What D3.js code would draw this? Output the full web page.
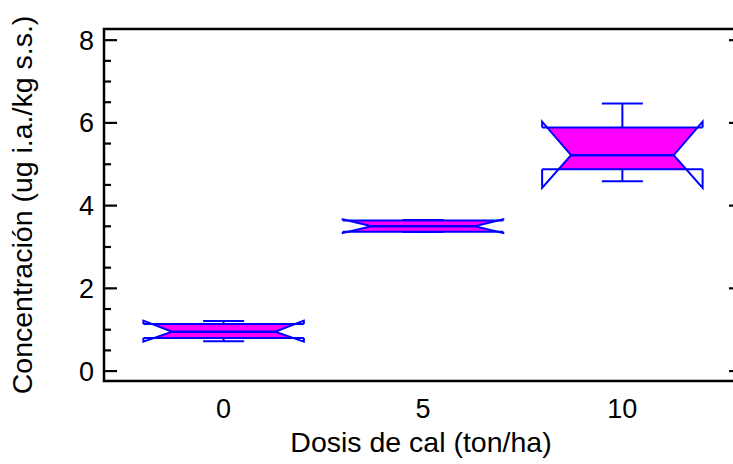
<!DOCTYPE html>
<html><head><meta charset="utf-8">
<script src="https://cdn.jsdelivr.net/npm/d3@7"></script>
<style>body{margin:0;background:#fff;} text{font-family:"Liberation Sans",Arial,sans-serif;}</style>
</head><body>
<svg id="c" width="733" height="464"></svg>
<script>
const categories = ["0", "5", "10"];
const whiskerLow  = [0.72, 3.36, 4.59];
const q1          = [0.80, 3.37, 4.88];
const median      = [0.95, 3.50, 5.22];
const q3          = [1.14, 3.64, 5.89];
const whiskerHigh = [1.21, 3.65, 6.47];
const notchLow    = [0.71, 3.34, 4.43];
const notchHigh   = [1.22, 3.67, 6.03];
const yMajorTicks = [0, 2, 4, 6, 8];
const yMinorTicks = [0.5, 1, 1.5, 2.5, 3, 3.5, 4.5, 5, 5.5, 6.5, 7, 7.5];
const xTitle = "Dosis de cal (ton/ha)";
const yTitle = "Concentración (ug i.a./kg s.s.)";

(function () {
const svg = d3.select("#c");
const pL = 104, pR = 742, pT = 29, pB = 381;
const x = d3.scalePoint().domain(categories).range([pL, pR]).padding(0.6);
const y = d3.scaleLinear().domain([-0.24, 8.27]).range([pB, pT]);
const boxW = x.step() * 0.805;
const inset = boxW * 0.18;
const capW = 41;
const fs = 27, fsT = 28.5;

const data = categories.map((c, i) => ({c, i, wl: whiskerLow[i], q1: q1[i], med: median[i], q3: q3[i], wh: whiskerHigh[i], nl: notchLow[i], nh: notchHigh[i]}));

const defs = svg.append("defs");
data.forEach(d => {
  defs.append("clipPath").attr("id", "clip" + d.i).append("rect")
    .attr("x", x(d.c) - boxW/2 - 1).attr("width", boxW + 2)
    .attr("y", y(d.q3)).attr("height", y(d.q1) - y(d.q3));
});

const g = svg.append("g");
data.forEach(d => {
  const cx = x(d.c), L = cx - boxW/2, R = cx + boxW/2;
  g.append("path")
    .attr("d", d3.line()([[L, y(d.nh)], [R, y(d.nh)], [R - inset, y(d.med)], [R, y(d.nl)], [L, y(d.nl)], [L + inset, y(d.med)]]) + "Z")
    .attr("fill", "#ff00ff").attr("clip-path", "url(#clip" + d.i + ")");
  const st = (sel, w) => sel.attr("fill", "none").attr("stroke", "#0000ff").attr("stroke-width", w || 2);
  st(g.append("path").attr("d", d3.line()([[cx, y(d.q3)], [cx, y(d.wh)]])));
  st(g.append("path").attr("d", d3.line()([[cx - capW/2, y(d.wh)], [cx + capW/2, y(d.wh)]])));
  st(g.append("path").attr("d", d3.line()([[cx, y(d.q1)], [cx, y(d.wl)]])));
  st(g.append("path").attr("d", d3.line()([[cx - capW/2, y(d.wl)], [cx + capW/2, y(d.wl)]])));
  st(g.append("path").attr("d", d3.line()([[L, y(d.q3)], [R, y(d.q3)]])));
  st(g.append("path").attr("d", d3.line()([[L, y(d.q1)], [R, y(d.q1)]])));
  st(g.append("path").attr("d", d3.line()([[L, y(d.q3)], [L, y(d.nh)], [L + inset, y(d.med)], [L, y(d.nl)], [L, y(d.q1)]])));
  st(g.append("path").attr("d", d3.line()([[R, y(d.q3)], [R, y(d.nh)], [R - inset, y(d.med)], [R, y(d.nl)], [R, y(d.q1)]])));
  st(g.append("path").attr("d", d3.line()([[L + inset, y(d.med)], [R - inset, y(d.med)]])), 2.5);
});

svg.append("rect").attr("x", pL).attr("y", pT).attr("width", pR - pL).attr("height", pB - pT)
  .attr("fill", "none").attr("stroke", "#000").attr("stroke-width", 2.5);

const tk = svg.append("g").attr("stroke", "#000").attr("stroke-width", 2.2);
yMajorTicks.forEach(v => {
  tk.append("line").attr("x1", pL).attr("x2", pL + 13).attr("y1", y(v)).attr("y2", y(v));
  tk.append("line").attr("x1", pR).attr("x2", pR - 13).attr("y1", y(v)).attr("y2", y(v));
});
yMinorTicks.forEach(v => {
  tk.append("line").attr("x1", pL).attr("x2", pL + 7).attr("y1", y(v)).attr("y2", y(v));
  tk.append("line").attr("x1", pR).attr("x2", pR - 7).attr("y1", y(v)).attr("y2", y(v));
});
svg.append("g").selectAll("text").data(yMajorTicks).join("text")
  .attr("x", 94).attr("y", v => y(v)).attr("dy", "0.35em").attr("text-anchor", "end")
  .attr("font-size", fs).text(v => v);

svg.append("g").selectAll("text").data(categories).join("text")
  .attr("x", c => x(c)).attr("y", 418).attr("text-anchor", "middle")
  .attr("font-size", fs).text(c => c);

svg.append("text").attr("x", 421).attr("y", 452).attr("text-anchor", "middle")
  .attr("font-size", fsT).text(xTitle);
svg.append("text").attr("transform", "translate(32,205) rotate(-90)").attr("text-anchor", "middle")
  .attr("font-size", fsT).text(yTitle);
})();
</script>
</body></html>
